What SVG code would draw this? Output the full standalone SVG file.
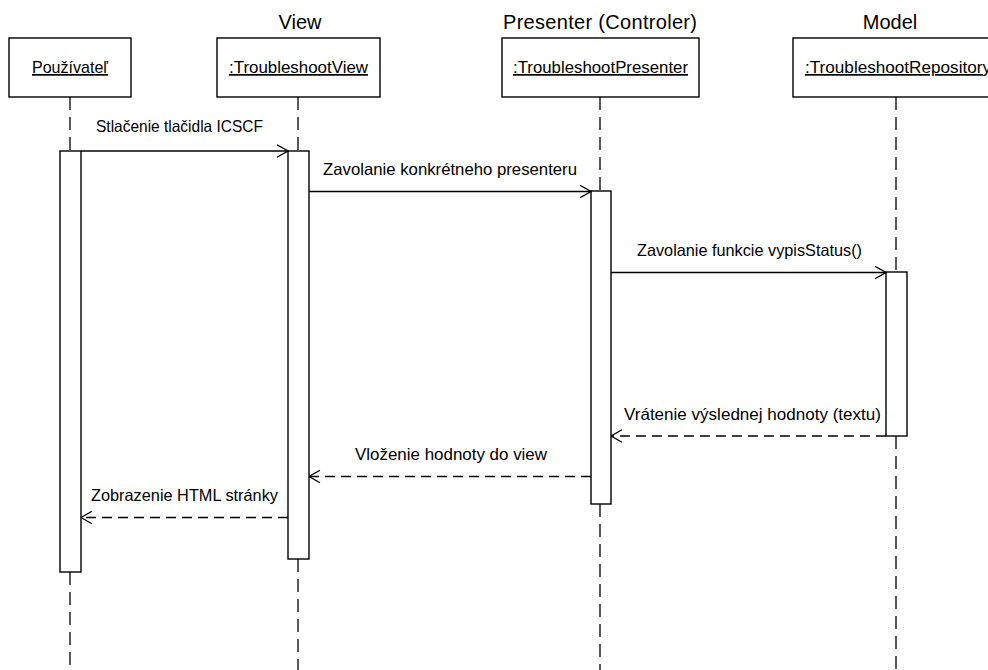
<svg xmlns="http://www.w3.org/2000/svg" width="988" height="670" viewBox="0 0 988 670">
  <style>
    text { font-family: "Liberation Sans", Arial, sans-serif; fill: #000; }
    .title { font-size: 20px; text-anchor: middle; }
    .obj { font-size: 17px; text-decoration: underline; }
    .msg { font-size: 16.5px; }
    .box { fill: #fff; stroke: #000; stroke-width: 1.4; }
    .life { stroke: #000; stroke-width: 1.3; stroke-dasharray: 13 7; fill: none; }
    .act { fill: #fff; stroke: #000; stroke-width: 1.4; }
    .call { stroke: #000; stroke-width: 1.3; fill: none; marker-end: url(#open); }
    .ret { stroke: #000; stroke-width: 1.3; fill: none; stroke-dasharray: 10 6; marker-end: url(#open); }
  </style>
  <defs>
    <marker id="open" viewBox="0 0 12 14" refX="11.5" refY="7" markerWidth="12" markerHeight="14" markerUnits="userSpaceOnUse" orient="auto">
      <path d="M0.5,0.8 L11.5,7 L0.5,13.2" fill="none" stroke="#000" stroke-width="1.3"/>
    </marker>
  </defs>
  <rect width="988" height="670" fill="#fff"/>

  <!-- lifeline headers -->
  <text class="title" x="300" y="29">View</text>
  <text class="title" x="600" y="29" textLength="194" lengthAdjust="spacing">Presenter (Controler)</text>
  <text class="title" x="890" y="29">Model</text>

  <g id="user">
    <rect class="box" x="9" y="38" width="122" height="59"/>
    <text class="obj" x="32" y="73" textLength="76" lengthAdjust="spacingAndGlyphs">Používateľ</text>
    <path class="life" d="M70,97 V151 M70,572 V670"/>
    <rect class="act" x="60" y="151" width="21" height="421"/>
  </g>

  <g id="view">
    <rect class="box" x="217" y="38" width="163" height="59"/>
    <text class="obj" x="229" y="73" textLength="139" lengthAdjust="spacingAndGlyphs">:TroubleshootView</text>
    <path class="life" d="M298,97 V151 M298,559 V670"/>
    <rect class="act" x="288" y="151" width="21" height="408"/>
  </g>

  <g id="presenter">
    <rect class="box" x="502" y="38" width="197" height="59"/>
    <text class="obj" x="513" y="73" textLength="175" lengthAdjust="spacingAndGlyphs">:TroubleshootPresenter</text>
    <path class="life" d="M600,97 V191 M600,504 V670"/>
    <rect class="act" x="591" y="191" width="20" height="313"/>
  </g>

  <g id="repository">
    <rect class="box" x="793" y="38" width="210" height="59"/>
    <text class="obj" x="805" y="73" textLength="186" lengthAdjust="spacingAndGlyphs">:TroubleshootRepository</text>
    <path class="life" d="M896,97 V272 M896,436 V670"/>
    <rect class="act" x="886" y="272" width="21" height="164"/>
  </g>

  <g id="connectors">
    <path class="call" d="M81,151 H288"/>
    <text class="msg" x="96" y="132" textLength="167" lengthAdjust="spacingAndGlyphs">Stlačenie tlačidla ICSCF</text>

    <path class="call" d="M309,191.5 H591"/>
    <text class="msg" x="323" y="175" textLength="254" lengthAdjust="spacingAndGlyphs">Zavolanie konkrétneho presenteru</text>

    <path class="call" d="M611,272.5 H886"/>
    <text class="msg" x="637" y="256" textLength="225" lengthAdjust="spacingAndGlyphs">Zavolanie funkcie vypisStatus()</text>

    <path class="ret" d="M886,436 H611"/>
    <text class="msg" x="624" y="420" textLength="257" lengthAdjust="spacingAndGlyphs">Vrátenie výslednej hodnoty (textu)</text>

    <path class="ret" d="M591,476.5 H309"/>
    <text class="msg" x="355" y="460" textLength="192" lengthAdjust="spacingAndGlyphs">Vloženie hodnoty do view</text>

    <path class="ret" d="M288,517.5 H81"/>
    <text class="msg" x="91" y="501" textLength="187" lengthAdjust="spacingAndGlyphs">Zobrazenie HTML stránky</text>
  </g>
</svg>
